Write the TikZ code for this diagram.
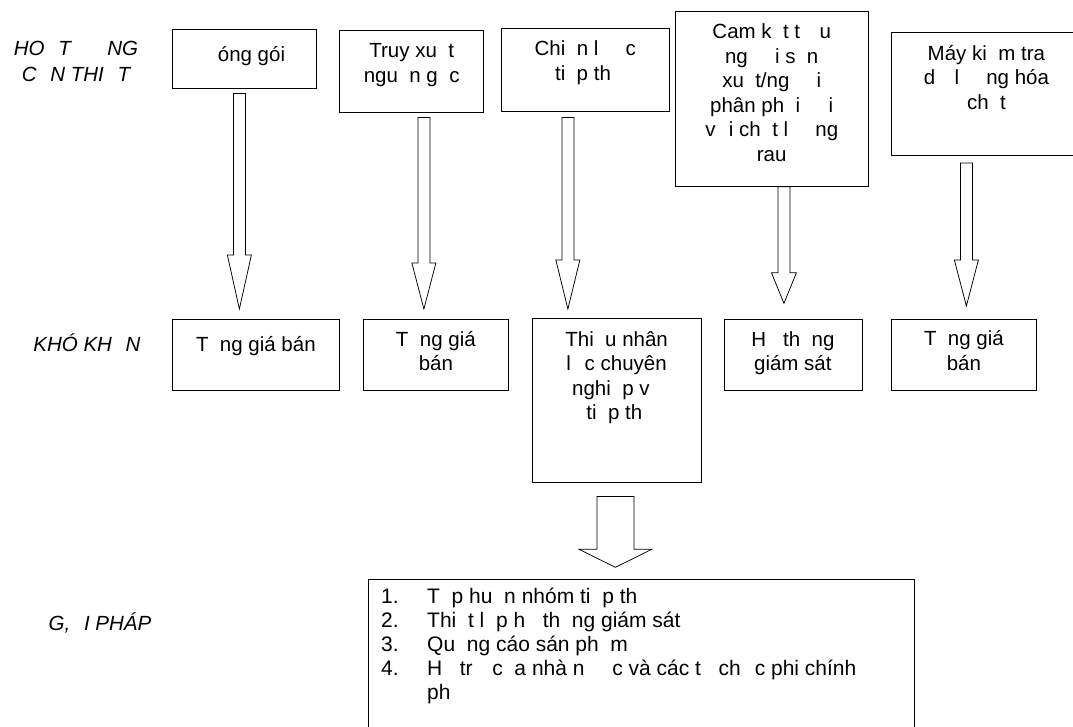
\documentclass[tikz,border=0pt]{standalone}
\usepackage{fontspec}
\setmainfont{Liberation Sans}
\usetikzlibrary{calc}

\newcommand{\topstrut}{\rule{0pt}{20pt}}
\newcommand{\listno}[1]{\makebox[46pt][l]{#1}}
% hollow block arrow: start, tip, shaft half width, head half width, head length
\newcommand{\hollowarrow}[5]{%
  \draw[arrowbody] let \p1=(#1), \p2=(#2) in
    (\x1-#3,\y1) -- (\x1+#3,\y1) -- (\x1+#3,\y2+#5) -- (\x1+#4,\y2+#5)
    -- (\x1,\y2) -- (\x1-#4,\y2+#5) -- (\x1-#3,\y2+#5) -- cycle;}

\tikzset{
  box/.style={draw, line width=0.75pt, inner sep=0pt, anchor=north west},
  boxtext/.style={anchor=north, align=center, inner sep=0pt,
    font=\fontsize{20.5}{24.5}\selectfont, execute at begin node=\topstrut},
  sidelabel/.style={anchor=north, align=center, inner sep=0pt,
    font=\fontsize{20.5}{26}\selectfont\itshape, execute at begin node=\topstrut},
  listtext/.style={anchor=north west, align=left, inner sep=0pt,
    font=\fontsize{21}{24}\selectfont, execute at begin node=\topstrut},
  arrowbody/.style={draw, line width=0.75pt, fill=white}
}

\begin{document}
\begin{tikzpicture}[x=1pt,y=-1pt]
\fill[white] (0,0) rectangle (1073,726);
\useasboundingbox (0,0) rectangle (1073,726);

% row labels
\node[sidelabel] (lab1) at (76,37.4) {HO\phantom{Ạ}T \phantom{ĐỘ}NG\\C\phantom{Ầ}N THI\phantom{Ế}T};
\node[sidelabel] (lab2) at (87,331.4) {KHÓ KH\phantom{Ă}N};
\node[sidelabel] (lab3) at (100,610.4) {G,\phantom{Ả}I PHÁP};

% needed activities
\node[box, minimum width=144pt, minimum height=59pt] (b1) at (171.7,29.3) {};
\node[box, minimum width=144pt, minimum height=82pt] (b2) at (339.3,29.7) {};
\node[box, minimum width=168.4pt, minimum height=83pt] (b3) at (500.7,27.7) {};
\node[box, minimum width=192.3pt, minimum height=175pt] (b4) at (675.2,11) {};
\node[box, minimum width=190pt, minimum height=123.3pt] (b5) at (891,31.7) {};

\node[boxtext] (b1t) at ([yshift=-12pt]b1.north) {\phantom{Đ}óng gói};
\node[boxtext] (b2t) at ([yshift=-12pt]b2.north) {Truy xu\phantom{ấ}t\\ngu\phantom{ồ}n g\phantom{ố}c};
\node[boxtext] (b3t) at ([yshift=-12pt]b3.north) {Chi\phantom{ế}n l\phantom{ượ}c\\ti\phantom{ế}p th\phantom{ị}};
\node[boxtext] (b4t) at ([yshift=-12pt]b4.north) {Cam k\phantom{ế}t t\phantom{ừ} u\\ng\phantom{ườ}i s\phantom{ả}n\\xu\phantom{ấ}t/ng\phantom{ườ}i\\phân ph\phantom{ố}i \phantom{đố}i\\v\phantom{ớ}i ch\phantom{ấ}t l\phantom{ượ}ng\\rau};
\node[boxtext] (b5t) at ([yshift=-12pt]b5.north) {Máy ki\phantom{ể}m tra\\d\phantom{ư} l\phantom{ượ}ng hóa\\ch\phantom{ấ}t};

% difficulties
\node[box, minimum width=167.6pt, minimum height=71pt] (r1) at (171.7,319) {};
\node[box, minimum width=144.4pt, minimum height=71pt] (r2) at (363.3,319) {};
\node[box, minimum width=168.5pt, minimum height=164pt] (r3) at (532,318.3) {};
\node[box, minimum width=138pt, minimum height=71.5pt] (r4) at (723.5,318.5) {};
\node[box, minimum width=144.5pt, minimum height=71.5pt] (r5) at (891.3,318.5) {};

\node[boxtext] (r1t) at ([yshift=-12pt]r1.north) {T\phantom{ă}ng giá bán};
\node[boxtext] (r2t) at ([yshift=-12pt]r2.north) {T\phantom{ă}ng giá\\bán};
\node[boxtext] (r3t) at ([yshift=-12pt]r3.north) {Thi\phantom{ế}u nhân\\l\phantom{ự}c chuyên\\nghi\phantom{ệ}p v\phantom{ụ}\\ti\phantom{ế}p th\phantom{ị}};
\node[boxtext] (r4t) at ([yshift=-12pt]r4.north) {H\phantom{ệ} th\phantom{ố}ng\\giám sát};
\node[boxtext] (r5t) at ([yshift=-12pt]r5.north) {T\phantom{ă}ng giá\\bán};

% solutions
\node[box, minimum width=546.4pt, minimum height=170pt] (sol) at (368,579) {};
\node[listtext] (solt) at ([xshift=13pt,yshift=-8.5pt]sol.north west) {%
\listno{1.}T\phantom{ậ}p hu\phantom{ấ}n nhóm ti\phantom{ế}p th\phantom{ị}\\
\listno{2.}Thi\phantom{ế}t l\phantom{ậ}p h\phantom{ệ} th\phantom{ố}ng giám sát\\
\listno{3.}Qu\phantom{ả}ng cáo sán ph\phantom{ẩ}m\\
\listno{4.}H\phantom{ỗ} tr\phantom{ợ} c\phantom{ủ}a nhà n\phantom{ướ}c và các t\phantom{ổ} ch\phantom{ứ}c phi chính\\
\listno{}ph\phantom{ủ}};

% arrows
\hollowarrow{[xshift=-4.7pt,yshift=-4.4pt]b1.south}{[yshift=10pt]r1.north}{6pt}{12pt}{54pt}
\hollowarrow{[xshift=12.2pt,yshift=-5pt]b2.south}{[yshift=10pt]r2.north}{6pt}{12pt}{46pt}
\hollowarrow{[xshift=-17.4pt,yshift=-6pt]b3.south}{[yshift=9.3pt]r3.north}{6pt}{12pt}{49pt}
\hollowarrow{[xshift=12.2pt]b4.south}{[yshift=15.2pt]r4.north}{6pt}{12.5pt}{30.6pt}
\hollowarrow{[xshift=-20pt,yshift=-7.3pt]b5.south}{[yshift=12.5pt]r5.north}{6pt}{12pt}{46pt}
\hollowarrow{[xshift=-1.25pt,yshift=-13.4pt]r3.south}{[yshift=11.7pt]sol.north}{18.5pt}{36.4pt}{18pt}

\end{tikzpicture}
\end{document}
